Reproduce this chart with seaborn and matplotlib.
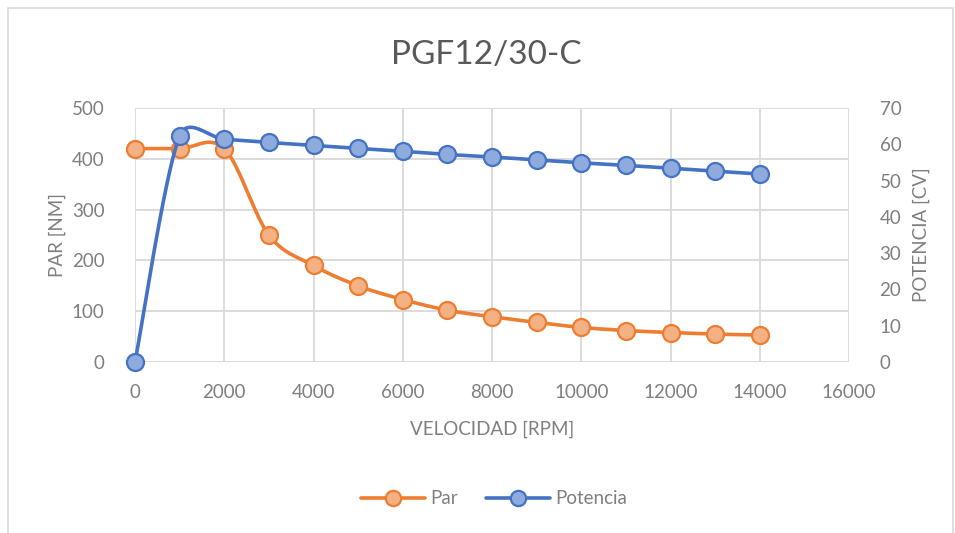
import numpy as np
import matplotlib
matplotlib.use("Agg")
import matplotlib.pyplot as plt
from matplotlib.lines import Line2D
from matplotlib.patches import Rectangle
import seaborn as sns

# Motor curve data
velocidad = [0, 1000, 2000, 3000, 4000, 5000, 6000, 7000, 8000, 9000,
             10000, 11000, 12000, 13000, 14000]
par = [420, 420, 420, 250, 190, 150, 123, 102, 89, 78, 68, 62, 58, 55, 53]
potencia = [0, 62.3, 61.4, 60.5, 59.7, 58.9, 58.1, 57.2, 56.5, 55.7,
            54.9, 54.2, 53.4, 52.6, 51.8]

x_ticks = [0, 2000, 4000, 6000, 8000, 10000, 12000, 14000, 16000]
par_ticks = [0, 100, 200, 300, 400, 500]
pot_ticks = [0, 10, 20, 30, 40, 50, 60, 70]

ORANGE = "#ED7D31"
ORANGE_FILL = "#F4B183"
BLUE = "#4472C4"
BLUE_FILL = "#8FAADC"
TXT = "#7F7F7F"
TITLE_TXT = "#595959"
GRID = "#D9D9D9"

FIG_W, FIG_H = 955, 533
AX_L, AX_R, AX_T, AX_B = 135, 849, 108, 362


def smooth(xs, ys, sx, sy, n=40):
    """Bezier smoothing through the points; control handles are capped at
    half the segment length (measured in pixels via sx, sy)."""
    xs = np.asarray(xs, float) * sx
    ys = np.asarray(ys, float) * sy
    pts = np.column_stack([xs, ys])
    pts = np.vstack([pts[:1], pts, pts[-1:]])
    t = np.linspace(0, 1, n)[:, None]
    out = []
    for i in range(1, len(pts) - 2):
        p0, p1, p2, p3 = pts[i - 1], pts[i], pts[i + 1], pts[i + 2]
        seg = np.linalg.norm(p2 - p1)
        h1 = (p2 - p0) / 6.0
        h2 = (p3 - p1) / 6.0
        for h in (h1, h2):
            L = np.linalg.norm(h)
            if L > 0.5 * seg:
                h *= 0.5 * seg / L
        c1 = p1 + h1
        c2 = p2 - h2
        b = (1 - t) ** 3 * p1 + 3 * (1 - t) ** 2 * t * c1 \
            + 3 * (1 - t) * t ** 2 * c2 + t ** 3 * p2
        if i > 1:
            b = b[1:]
        out.append(b)
    out = np.vstack(out)
    return out[:, 0] / sx, out[:, 1] / sy


sns.set_theme(style="white")
plt.rcParams["font.family"] = ["Lato", "DejaVu Sans"]

fig = plt.figure(figsize=(FIG_W / 100, FIG_H / 100), dpi=100)
ax = fig.add_axes([AX_L / FIG_W, 1 - AX_B / FIG_H,
                   (AX_R - AX_L) / FIG_W, (AX_B - AX_T) / FIG_H])
ax2 = ax.twinx()

ax.set_xlim(0, 16000)
ax.set_ylim(0, 500)
ax2.set_ylim(0, 70)

px_x = (AX_R - AX_L) / 16000
px_left = (AX_B - AX_T) / 500
px_right = (AX_B - AX_T) / 70

# Torque curve on the left axis
sx, sy = smooth(velocidad, par, px_x, px_left)
sns.lineplot(x=sx, y=sy, ax=ax, color=ORANGE, linewidth=2.6, sort=False,
             estimator=None, zorder=3)
sns.scatterplot(x=velocidad, y=par, ax=ax, s=150, color=ORANGE_FILL,
                edgecolor=ORANGE, linewidth=1.6, zorder=4, clip_on=False)

# Power curve on the right axis
sx2, sy2 = smooth(velocidad, potencia, px_x, px_right)
sns.lineplot(x=sx2, y=sy2, ax=ax2, color=BLUE, linewidth=2.6, sort=False,
             estimator=None, zorder=3)
sns.scatterplot(x=velocidad, y=potencia, ax=ax2, s=150, color=BLUE_FILL,
                edgecolor=BLUE, linewidth=1.6, zorder=4, clip_on=False)

ax.set_xlim(0, 16000)
ax.set_ylim(0, 500)
ax2.set_ylim(0, 70)
ax.set_xticks(x_ticks)
ax.set_xticklabels([str(v) for v in x_ticks])
ax.set_yticks(par_ticks)
ax.set_yticklabels([str(v) for v in par_ticks])
ax2.set_yticks(pot_ticks)
ax2.set_yticklabels([str(v) for v in pot_ticks])

ax.grid(True, color=GRID, linewidth=1.3)
ax2.grid(False)
for a in (ax, ax2):
    for s in a.spines.values():
        s.set_visible(False)
    a.tick_params(length=0, labelsize=13.5, colors=TXT)
ax.tick_params(axis="y", pad=22)
ax.tick_params(axis="x", pad=16)
ax2.tick_params(axis="y", pad=22)

ax.set_xlabel("VELOCIDAD [RPM]", fontsize=13.5, color=TXT, labelpad=14)
ax.set_ylabel("PAR [NM]", fontsize=13.5, color=TXT, labelpad=4)
ax2.set_ylabel("POTENCIA [CV]", fontsize=13.5, color=TXT, labelpad=8)

fig.text(486 / FIG_W, 1 - 55 / FIG_H, "PGF12/30-C", ha="center", va="center",
         fontsize=24, color=TITLE_TXT, fontweight="normal")

handles = [
    Line2D([], [], color=ORANGE, linewidth=2.6, marker="o", markersize=11,
           markerfacecolor=ORANGE_FILL, markeredgecolor=ORANGE, markeredgewidth=1.6),
    Line2D([], [], color=BLUE, linewidth=2.6, marker="o", markersize=11,
           markerfacecolor=BLUE_FILL, markeredgecolor=BLUE, markeredgewidth=1.6),
]
leg = fig.legend(handles, ["Par", "Potencia"], loc="center",
                 bbox_to_anchor=(494 / FIG_W, 1 - 499 / FIG_H), ncol=2, frameon=False,
                 fontsize=13.5, handlelength=3.4, handletextpad=0.3,
                 columnspacing=1.5, numpoints=1)
for t in leg.get_texts():
    t.set_color(TXT)

# Chart area border
fig.patches.append(Rectangle((8 / FIG_W, -0.05), (953 - 8) / FIG_W, 1 - 8 / FIG_H + 0.05,
                             transform=fig.transFigure, fill=False,
                             edgecolor="#D9D9D9", linewidth=1.2))

fig.savefig("out.png", dpi=100)
